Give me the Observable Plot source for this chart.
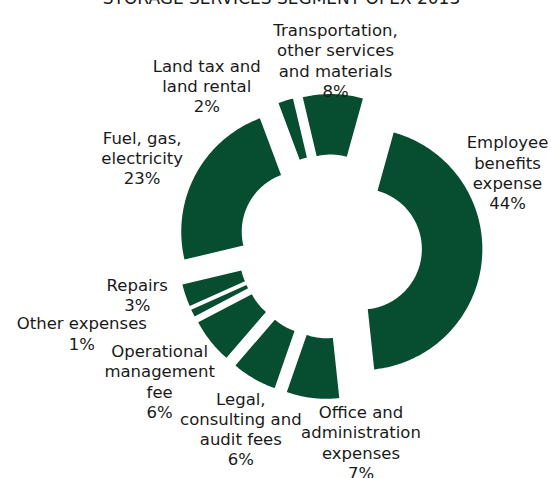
<!DOCTYPE html>
<html>
<head>
<meta charset="utf-8">
<script src="https://cdn.jsdelivr.net/npm/d3@7"></script>
<script src="https://cdn.jsdelivr.net/npm/@observablehq/plot@0.6"></script>
<style>
  html, body { margin: 0; padding: 0; background: #ffffff; overflow: hidden; }
  body { width: 551px; height: 478px; position: relative; font-family: "DejaVu Sans", Verdana, sans-serif; }
  #title { position: absolute; top: -12px; left: 281.5px; transform: translateX(-50%); white-space: nowrap;
           font-size: 17px; line-height: 20px; color: #1a1a1a; }
  #chart { position: absolute; top: 0; left: 0; }
</style>
</head>
<body>
<div id="title">STORAGE SERVICES SEGMENT OPEX 2013</div>
<div id="chart"></div>
<script>
// ---- data (clockwise order) ----
const categories = [
  "Employee benefits expense",
  "Office and administration expenses",
  "Legal, consulting and audit fees",
  "Operational management fee",
  "Other expenses",
  "Repairs",
  "Fuel, gas, electricity",
  "Land tax and land rental",
  "Transportation, other services and materials"
];
const shares = [44, 7, 6, 6, 1, 3, 23, 2, 8];
const labelTexts = [
  "Employee\nbenefits\nexpense",
  "Office and\nadministration\nexpenses",
  "Legal,\nconsulting and\naudit fees",
  "Operational\nmanagement\nfee",
  "Other expenses",
  "Repairs",
  "Fuel, gas,\nelectricity",
  "Land tax and\nland rental",
  "Transportation,\nother services\nand materials"
];

// ---- layout ----
const W = 551, H = 478;
const cx = 329.5, cy = 246, R = 121;   // donut centre and outer radius (px)
const innerRatio = 0.5;
const explode = 0.26;                  // explosion as fraction of outer radius
const startDeg = 15.5;
const labelAngleDeg = [67.3, 171.0, 206.1, 231.7, 250.8, 256.1, 295.3, 322.6, 1.7];
const labelRadius   = [1.59, 1.637, 1.675, 1.794, 2.172, 1.641, 1.717, 1.677, 1.541];
const green = "#064e2f";

const pie = d3.pie().sort(null).value(d => d)
  .startAngle(startDeg * Math.PI / 180)
  .endAngle(startDeg * Math.PI / 180 + 2 * Math.PI);
const arcs = pie(shares);

// polygon outline for each slice (unit radius space)
const pts = [];
arcs.forEach((a, i) => {
  const mid = (a.startAngle + a.endAngle) / 2;
  const ox = explode * Math.sin(mid), oy = -explode * Math.cos(mid);
  const n = Math.max(4, Math.ceil((a.endAngle - a.startAngle) / (Math.PI / 180)));
  for (let k = 0; k <= n; k++) {
    const t = a.startAngle + (a.endAngle - a.startAngle) * k / n;
    pts.push({cat: categories[i], x: ox + Math.sin(t), y: oy - Math.cos(t)});
  }
  for (let k = n; k >= 0; k--) {
    const t = a.startAngle + (a.endAngle - a.startAngle) * k / n;
    pts.push({cat: categories[i], x: ox + innerRatio * Math.sin(t), y: oy - innerRatio * Math.cos(t)});
  }
});

const labels = categories.map((c, i) => {
  const t = labelAngleDeg[i] * Math.PI / 180;
  return {
    text: labelTexts[i] + "\n" + shares[i] + "%",
    x: labelRadius[i] * Math.sin(t),
    y: -labelRadius[i] * Math.cos(t)
  };
});

const chart = Plot.plot({
  width: W,
  height: H,
  margin: 0,
  style: {fontFamily: "DejaVu Sans, Verdana, sans-serif", background: "transparent"},
  x: {domain: [-cx / R, (W - cx) / R], range: [0, W], axis: null},
  y: {domain: [-cy / R, (H - cy) / R], range: [0, H], axis: null},
  marks: [
    Plot.line(pts, {x: "x", y: "y", z: "cat", fill: green, stroke: "none", curve: "linear-closed"}),
    Plot.text(labels, {x: "x", y: "y", text: "text", fontSize: 16.5, lineHeight: 1.23,
                       fill: "#1a1a1a", textAnchor: "middle"})
  ]
});
document.getElementById("chart").appendChild(chart);
</script>
</body>
</html>
